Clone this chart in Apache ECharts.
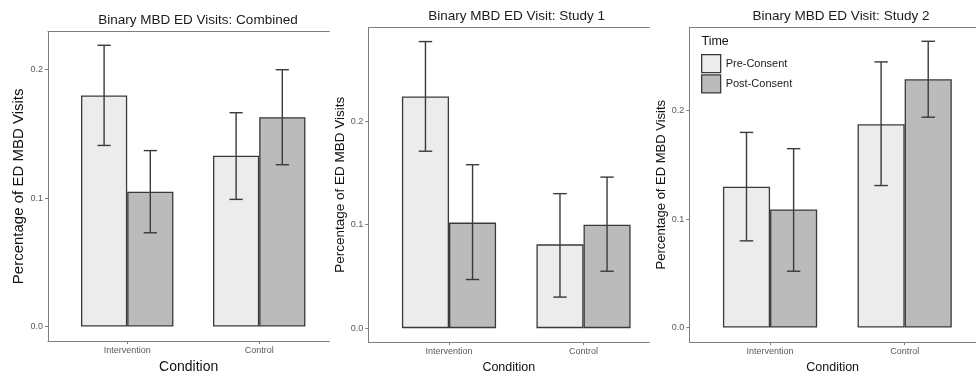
<!DOCTYPE html>
<html><head><meta charset="utf-8">
<script src="https://cdn.jsdelivr.net/npm/echarts@6/dist/echarts.min.js"></script>
<style>html,body{margin:0;padding:0;background:#fff}#c{width:976px;height:379px}</style>
</head><body><div id="c"></div>
<script>
// ---- data ----
const categories = ['Intervention', 'Control'];
const timeGroups = ['Pre-Consent', 'Post-Consent'];
const panelTitles = ['Binary MBD ED Visits: Combined', 'Binary MBD ED Visit: Study 1', 'Binary MBD ED Visit: Study 2'];
const yTickValues = [0, 0.1, 0.2];
const xTitle = 'Condition';
const yTitle = 'Percentage of ED MBD Visits';
const legendTitle = 'Time';

const combinedPre = [0.180, 0.133];
const combinedPost = [0.105, 0.163];
const combinedPreLow = [0.141, 0.099];
const combinedPreHigh = [0.219, 0.1665];
const combinedPostLow = [0.073, 0.126];
const combinedPostHigh = [0.137, 0.200];

const study1Pre = [0.224, 0.081];
const study1Post = [0.102, 0.100];
const study1PreLow = [0.171, 0.030];
const study1PreHigh = [0.277, 0.130];
const study1PostLow = [0.047, 0.055];
const study1PostHigh = [0.158, 0.146];

const study2Pre = [0.130, 0.1875];
const study2Post = [0.109, 0.229];
const study2PreLow = [0.080, 0.131];
const study2PreHigh = [0.180, 0.245];
const study2PostLow = [0.052, 0.194];
const study2PostHigh = [0.165, 0.264];

// ---- layout ----
const FONT = 'Liberation Sans, Arial, sans-serif';
const panels = [
  {pre: combinedPre, post: combinedPost, preLo: combinedPreLow, preHi: combinedPreHigh, postLo: combinedPostLow, postHi: combinedPostHigh,
   left: 48, top: 31.7, width: 281.3, height: 314.3, xMax: 2.531, yMin: -0.0113, yMax: 0.2296,
   titleX: 193, titleY: 8, titleSize: 13.5, xNameSize: 14, yNameSize: 15, xNameGap: 19, yNameGap: 18, tickSize: 9},
  {pre: study1Pre, post: study1Post, preLo: study1PreLow, preHi: study1PreHigh, postLo: study1PostLow, postHi: study1PostHigh,
   left: 368.3, top: 27.3, width: 281, height: 322, xMax: 2.489, yMin: -0.0135, yMax: 0.2908,
   titleX: 511.7, titleY: 4.5, titleSize: 13.5, xNameSize: 12.5, yNameSize: 13.5, xNameGap: 11, yNameGap: 20, tickSize: 9},
  {pre: study2Pre, post: study2Post, preLo: study2PreLow, preHi: study2PreHigh, postLo: study2PostLow, postHi: study2PostHigh,
   left: 689.3, top: 27.3, width: 286.7, height: 319.7, xMax: 2.53, yMin: -0.01335, yMax: 0.2769,
   titleX: 836, titleY: 4.5, titleSize: 13.5, xNameSize: 12.5, yNameSize: 13, xNameGap: 11, yNameGap: 19, tickSize: 9}
];
const X_MIN = 0.4;
const DODGE = 0.35;
const fills = ['#ECECEC', '#BBBBBB'];
const edge = '#3a3a3a';
const axisGray = '#7f7f7f';

const grid = [], xAxis = [], yAxis = [], series = [], title = [];

function renderErr(params, api) {
  const x = api.value(0) + api.value(3) * DODGE / 2;
  const lo = api.coord([x, api.value(1)]);
  const hi = api.coord([x, api.value(2)]);
  const hw = api.size([0.05, 0])[0];
  const style = {stroke: '#3a3a3a', lineWidth: 1.4, fill: null};
  return {type: 'group', children: [
    {type: 'line', shape: {x1: lo[0], y1: lo[1], x2: hi[0], y2: hi[1]}, style: style},
    {type: 'line', shape: {x1: lo[0] - hw, y1: lo[1], x2: lo[0] + hw, y2: lo[1]}, style: style},
    {type: 'line', shape: {x1: hi[0] - hw, y1: hi[1], x2: hi[0] + hw, y2: hi[1]}, style: style}
  ]};
}

panels.forEach((p, i) => {
  grid.push({left: p.left, top: p.top, width: p.width, height: p.height, containLabel: false});
  const pxPerUnit = p.width / (p.xMax - X_MIN);
  const barW = pxPerUnit * DODGE;
  xAxis.push({
    type: 'value', gridIndex: i, position: 'bottom', min: X_MIN, max: p.xMax,
    name: xTitle, nameLocation: 'middle', nameGap: p.xNameGap,
    nameTextStyle: {fontFamily: FONT, fontSize: p.xNameSize, color: '#111'},
    axisLine: {show: true, onZero: false, lineStyle: {color: axisGray, width: 1}},
    axisTick: {show: true, length: 3, customValues: [1, 2], lineStyle: {color: axisGray}},
    axisLabel: {show: true, customValues: [1, 2], margin: 5, fontFamily: FONT, fontSize: p.tickSize, color: '#5a5a5a',
      formatter: v => categories[Math.round(v) - 1] || ''},
    splitLine: {show: false}
  });
  xAxis.push({
    type: 'value', gridIndex: i, position: 'top', min: X_MIN, max: p.xMax,
    axisLine: {show: true, onZero: false, lineStyle: {color: axisGray, width: 1}},
    axisTick: {show: false}, axisLabel: {show: false}, splitLine: {show: false}
  });
  yAxis.push({
    type: 'value', gridIndex: i, min: p.yMin, max: p.yMax,
    name: yTitle, nameLocation: 'middle', nameGap: p.yNameGap, nameRotate: 90,
    nameTextStyle: {fontFamily: FONT, fontSize: p.yNameSize, color: '#111'},
    axisLine: {show: true, onZero: false, lineStyle: {color: axisGray, width: 1}},
    axisTick: {show: true, length: 3, customValues: yTickValues, lineStyle: {color: axisGray}},
    axisLabel: {show: true, customValues: yTickValues, margin: 5, fontFamily: FONT, fontSize: p.tickSize, color: '#5a5a5a',
      formatter: v => v.toFixed(1)},
    splitLine: {show: false}
  });
  title.push({text: panelTitles[i], left: p.titleX, top: p.titleY, textAlign: 'center',
    textStyle: {fontFamily: FONT, fontSize: p.titleSize, fontWeight: 'normal', color: '#1a1a1a'}});

  const groups = [p.pre, p.post];
  groups.forEach((vals, j) => {
    series.push({
      type: 'bar', name: timeGroups[j], xAxisIndex: 2 * i, yAxisIndex: i,
      data: vals.map((v, k) => [k + 1, v]),
      barWidth: barW, barGap: '0%',
      itemStyle: {color: fills[j], borderColor: edge, borderWidth: 1.3},
      emphasis: {disabled: true}, z: 2
    });
  });
  const errData = [];
  categories.forEach((c, k) => {
    errData.push([k + 1, p.preLo[k], p.preHi[k], -1]);
    errData.push([k + 1, p.postLo[k], p.postHi[k], 1]);
  });
  series.push({
    type: 'custom', xAxisIndex: 2 * i, yAxisIndex: i, data: errData,
    encode: {x: 0, y: [1, 2]}, renderItem: renderErr, clip: false, z: 5, silent: true
  });
});

title.push({text: legendTitle, left: 696.5, top: 30, textStyle: {fontFamily: FONT, fontSize: 12.5, fontWeight: 'normal', color: '#111'}});

const option = {
  animation: false,
  backgroundColor: '#ffffff',
  title: title,
  grid: grid, xAxis: xAxis, yAxis: yAxis, series: series,
  legend: {
    data: timeGroups, orient: 'vertical', left: 701, top: 54, padding: 0,
    itemWidth: 19, itemHeight: 18, itemGap: 1, icon: 'rect',
    itemStyle: {borderColor: edge, borderWidth: 1.3},
    textStyle: {fontFamily: FONT, fontSize: 11, color: '#222'},
    selectedMode: false
  }
};
const chart = echarts.init(document.getElementById('c'), null, {renderer: 'canvas'});
chart.setOption(option);
</script>
</body></html>
